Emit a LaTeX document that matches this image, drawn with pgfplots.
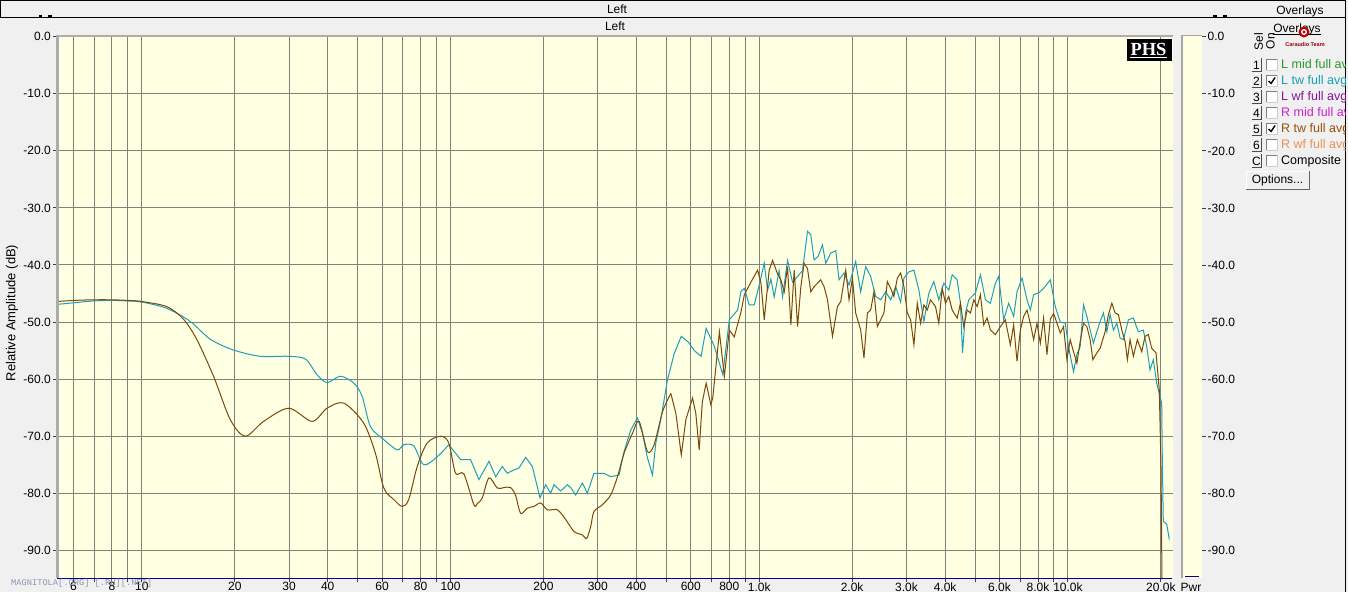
\documentclass[border=0pt]{standalone}
\usepackage{pgfplots}
\pgfplotsset{compat=1.18}
\usepackage{fontspec}
\setmainfont{Liberation Sans}
\newfontfamily\monofont{Liberation Mono}
\newfontfamily\seriffont{Liberation Serif}

\definecolor{winbg}{RGB}{240,240,240}
\definecolor{plotbg}{RGB}{255,255,225}
\definecolor{gridc}{RGB}{130,130,122}
\definecolor{teal1}{RGB}{30,158,186}
\definecolor{brown1}{RGB}{122,72,12}
\definecolor{axblue}{RGB}{0,0,140}
\definecolor{wm}{RGB}{140,150,178}
\definecolor{lg1}{RGB}{40,150,40}
\definecolor{lg2}{RGB}{20,160,180}
\definecolor{lg3}{RGB}{130,20,160}
\definecolor{lg4}{RGB}{210,30,210}
\definecolor{lg5}{RGB}{150,80,10}
\definecolor{lg6}{RGB}{235,145,90}

\begin{document}
\begin{tikzpicture}[font=\fontsize{12}{14}\selectfont]
\useasboundingbox (0,0) rectangle (1348pt,-592pt);
\fill[winbg] (0,0) rectangle (1348pt,-592pt);
\begin{scope}[x=1pt,y=-1pt]
 \draw[black,line width=1pt] (0.5,0.5) rectangle (1345.5,17.5);
 \draw[black,line width=1pt] (1345.5,17.5)--(1345.5,592);
 \node at (617,9) {Left};
 \node at (615,26) {Left};
 \draw[black,line width=1.2pt] (39,16)--(42,16) (48,16)--(52,16) (1213,16)--(1217,16) (1223,16)--(1227,16);
 % Pwr panel
 \fill[plotbg] (1183,35) rectangle (1202,578);
 \draw[gray!70,line width=2.5pt] (1182,35)--(1182,578);
 \draw[gray!70,line width=1.5pt] (1181,35.5)--(1202,35.5);
 \draw[axblue,line width=1pt] (1185,576)--(1199,576);
 \foreach \k/\t in {0/0.0,1/-10.0,2/-20.0,3/-30.0,4/-40.0,5/-50.0,6/-60.0,7/-70.0,8/-80.0,9/-90.0}{
   \draw[black!75,line width=1pt] (1202,36.7+57.1*\k)--(1206,36.7+57.1*\k);
   \node[anchor=west,inner sep=0pt] at (1207.5,36.7+57.1*\k) {\t};
 }
 \node[anchor=north,inner sep=0pt] at (1191,583.5) {Pwr};
 \node[rotate=90,font=\fontsize{13}{15}\selectfont] at (12,313) {Relative Amplitude (dB)};
 \node[inner sep=0pt] at (1300,11.5) {Overlays};
\end{scope}

\begin{axis}[
 at={(57pt,-578.3pt)}, anchor=south west,
 width=1116pt, height=541.6pt, scale only axis,
 xmode=log, xmin=5.31, xmax=21900, ymin=-94.9, ymax=0,
 axis background/.style={fill=plotbg},
 axis line style={draw=none},
 xtick={6,7,8,9,10,20,30,40,50,60,70,80,90,100,200,300,400,500,600,700,800,900,1000,2000,3000,4000,5000,6000,7000,8000,9000,10000,20000},
 xticklabels={6,,8,,10,20,30,40,,60,,80,,100,200,300,400,,600,,800,,1.0k,2.0k,3.0k,4.0k,,6.0k,,8.0k,,10.0k,20.0k},
 ytick={-90,-80,-70,-60,-50,-40,-30,-20,-10,0},
 yticklabels={-90.0,-80.0,-70.0,-60.0,-50.0,-40.0,-30.0,-20.0,-10.0,0.0},
 xtick pos=left, ytick pos=left,
 tick align=outside, major tick length=4pt, minor tick length=0pt,
 tick style={color=black!75, line width=1pt},
 grid=major, major grid style={draw=gridc, line width=1pt},
 tick label style={font=\fontsize{12}{14}\selectfont},
 xticklabel style={inner sep=0pt, anchor=north},
 yticklabel style={inner sep=0pt, anchor=east, xshift=-2pt},
 clip=true,
]
% L tw (teal), low part
\addplot[teal1, line width=1pt, smooth, tension=0.5] coordinates {
(5.31,-46.9)(6.08,-46.6)(6.97,-46.3)(7.99,-46.2)(8.94,-46.3)(10,-46.5)(12.05,-47.6)(14.35,-49.9)(16.65,-53.0)(19.82,-54.9)(24.2,-56.0)(29.9,-56.0)(33.9,-56.5)(36.9,-59.2)(39.8,-60.6)(44.0,-59.5)(48.6,-60.7)(51.7,-63.0)(55.0,-68.3)(60.8,-70.6)(67.2,-72.4)(70.5,-71.5)(76.0,-71.7)(81.9,-75.0)(90.5,-73.6)(98.7,-71.5)
};
\addplot[teal1, line width=1pt] coordinates {
(98.7,-71.5)(107.8,-74.1)(116.1,-74.1)(123.6,-77.6)(133.2,-74.4)(140.0,-77.1)(147.1,-75.3)(152.7,-76.5)(160.4,-75.9)(166.5,-75.6)(175.1,-73.7)(184.1,-75.3)(194.9,-80.8)(203.3,-78.5)(211.0,-80.0)(216.3,-78.5)(227.4,-79.6)(239.0,-78.5)(245.0,-79.0)(254.3,-80.3)(267.4,-78.2)(277.5,-80.0)(291.5,-76.5)(314.1,-76.5)(330.3,-77.1)(351.5,-76.8)(364.8,-72.7)(383.5,-68.9)(403.2,-66.8)(418.5,-69.5)(434.4,-73.8)(451.0,-76.8)(462.2,-71.2)(479.8,-67.1)(504.4,-60.1)(530.5,-55.5)(559.1,-52.5)(589.1,-53.5)(616.1,-55.0)(648,-56.0)(673,-51.1)(716,-54.3)(762,-59.2)(800,-49.6)(851,-47.9)(873,-44.6)(895,-44.1)(928,-47.0)(963,-47.0)(1000,-43.5)(1038,-39.7)(1064,-44.4)(1091,-42.5)(1118,-45.6)(1160,-41.0)(1190,-45.6)(1235,-39.2)(1282,-43.0)(1331,-42.0)(1381,-41.0)(1433,-34.1)(1469,-34.7)(1506,-39.1)(1551,-38.5)(1602,-36.5)(1643,-39.7)(1705,-37.9)(1770,-37.5)(1814,-42.6)(1883,-41.4)(1954,-43.5)(2053,-39.4)(2131,-44.7)(2212,-40.3)(2296,-42.0)(2383,-45.5)(2474,-46.1)(2567,-44.7)(2665,-46.1)(2766,-43.8)(2871,-46.5)(2943,-42.3)(3054,-41.2)(3170,-40.9)(3290,-44.4)(3415,-49.9)(3544,-44.9)(3678,-42.9)(3817,-46.1)(3962,-43.2)(4112,-44.4)(4218,-41.7)(4377,-42.6)(4486,-46.7)(4554,-55.4)(4657,-48.4)(4772,-46.1)(5017,-44.9)(5206,-41.7)(5404,-46.1)(5609,-46.7)(5821,-43.2)(5966,-42.0)(6193,-49.6)(6427,-46.7)(6671,-49.0)(6842,-44.7)(7102,-42.3)(7372,-46.1)(7554,-47.9)(7743,-45.2)(8035,-44.9)(8339,-44.1)(8768,-42.6)(9100,-47.3)(9444,-50.0)(9802,-50.2)(10044,-54.3)(10425,-58.7)(10692,-55.7)(10957,-54.3)(11230,-47.0)(11517,-49.0)(11803,-51.4)(12097,-53.7)(12407,-51.7)(12715,-49.9)(13032,-48.4)(13366,-51.7)(13700,-48.7)(14041,-51.4)(14401,-50.2)(14758,-52.8)(15126,-53.1)(15700,-49.6)(16293,-49.3)(16913,-51.7)(17552,-51.4)(18002,-54.3)(18450,-58.4)(18907,-56.6)(19393,-60.7)(19875,-63.0)(20128,-64.2)(20217,-74.1)(20370,-84.9)(20893,-85.4)(21302,-88.1)
};
% R tw (brown), low part
\addplot[brown1, line width=1pt, smooth, tension=0.5] coordinates {
(5.31,-46.4)(6.08,-46.2)(6.97,-46.1)(7.99,-46.1)(8.94,-46.2)(10,-46.4)(12.05,-47.3)(13.64,-49.5)(15.08,-53.1)(17.07,-59.5)(19.34,-67.1)(21.63,-70.0)(24.80,-67.4)(29.9,-65.1)(35.6,-67.4)(39.8,-65.1)(45.1,-64.2)(52.3,-67.7)(57.1,-73.0)(60.8,-79.1)(65.5,-81.1)(69.7,-82.3)(73.2,-81.1)(78.0,-75.3)(84.0,-71.2)(92.8,-70.0)(98.7,-71.2)(103.8,-76.5)(110.4,-76.6)(119.0,-82.0)(122.1,-81.8)(126.7,-80.8)(133.2,-77.3)(141.8,-79.1)(148.9,-79.0)(156.5,-79.0)(162.5,-80.4)(168.7,-83.5)(177.4,-82.6)(186.3,-82.3)(195.9,-81.7)(205.9,-82.9)(221.9,-82.9)(236.1,-84.6)(251.1,-86.7)(267.4,-87.3)(276.1,-87.9)(284.5,-85.8)(291.5,-83.2)(310.5,-82.0)(330.3,-80.3)(347.3,-77.1)(364.8,-73.0)(388.5,-69.5)(408.1,-67.4)(434.4,-72.7)(456.4,-71.5)(486.2,-65.7)(517.1,-62.5)
};
\addplot[brown1, line width=1pt] coordinates {
(517.1,-62.5)(537,-66.0)(559.1,-73.3)(578.4,-67.1)(608.1,-63.3)(623,-66.0)(639,-72.4)(654,-64.0)(673,-60.7)(697,-64.5)(707,-63.3)(743,-51.7)(771,-59.5)(800,-51.4)(830,-52.6)(873,-48.2)(895,-45.2)(940,-43.0)(988,-40.9)(1013,-43.2)(1038,-49.6)(1077,-40.9)(1105,-39.2)(1147,-41.6)(1175,-42.6)(1205,-44.7)(1235,-40.3)(1266,-50.5)(1298,-40.9)(1331,-50.8)(1364,-43.8)(1397,-39.7)(1433,-40.6)(1469,-44.7)(1506,-43.8)(1544,-43.2)(1582,-42.6)(1622,-43.8)(1664,-46.1)(1727,-52.5)(1792,-47.3)(1837,-46.4)(1907,-40.9)(1954,-46.1)(2004,-42.3)(2053,-48.4)(2131,-51.4)(2184,-56.3)(2241,-48.4)(2296,-47.9)(2353,-44.7)(2413,-50.8)(2474,-49.6)(2535,-48.4)(2600,-42.9)(2665,-44.1)(2731,-45.5)(2801,-42.3)(2871,-41.4)(2943,-43.8)(3018,-48.4)(3093,-49.6)(3170,-54.0)(3251,-46.7)(3332,-50.2)(3415,-47.0)(3502,-47.9)(3589,-46.1)(3725,-47.3)(3817,-50.2)(3915,-44.1)(4012,-46.7)(4112,-45.5)(4218,-47.9)(4377,-49.3)(4486,-46.7)(4598,-50.8)(4716,-47.9)(4833,-48.4)(4954,-46.1)(5081,-47.3)(5206,-45.2)(5337,-50.5)(5473,-49.3)(5609,-51.4)(5821,-52.2)(6042,-50.8)(6270,-49.6)(6508,-54.0)(6671,-50.5)(6842,-56.9)(7013,-51.4)(7188,-49.0)(7372,-47.9)(7554,-50.2)(7743,-53.1)(7940,-50.2)(8138,-53.7)(8339,-49.3)(8553,-55.7)(8768,-49.5)(8985,-48.5)(9215,-50.2)(9444,-51.9)(9678,-50.8)(9926,-56.6)(10171,-53.1)(10425,-55.2)(10692,-57.2)(10957,-53.4)(11230,-50.2)(11517,-50.8)(11803,-53.1)(12044,-56.6)(12407,-55.4)(12715,-54.6)(13196,-51.7)(13527,-48.7)(13874,-46.7)(14220,-48.4)(14572,-48.7)(14946,-51.4)(15318,-53.4)(15582,-56.6)(15897,-53.1)(16293,-56.0)(16785,-53.1)(17346,-55.2)(17775,-52.5)(18219,-52.2)(18686,-54.6)(19294,-55.4)(19770,-61.9)(20022,-75.3)(20174,-96)
};
\end{axis}

\begin{scope}[x=1pt,y=-1pt]
 % plot borders
 \draw[gray!65,line width=2.6pt] (57.3,35.4)--(57.3,578.3);
 \draw[gray!65,line width=2pt] (56,36.2)--(1173,36.2);
 \draw[axblue,line width=1.2pt] (57,578.6)--(1172,578.6);
 % PHS logo
 \fill[black] (1126.5,39) rectangle (1171.5,60.5);
 \node[text=white,inner sep=0pt,font=\seriffont\bfseries\fontsize{18.5}{18.5}\selectfont] at (1148.5,49) {PHS};
 \draw[white,line width=1pt] (1130,57.2)--(1167,57.2);
 % watermark bottom
 \node[anchor=west,inner sep=0pt,text=wm,font=\monofont\fontsize{8.7}{9}\selectfont] at (11,583.5) {MAGNITOLA[.ORG] [.RU][.NET]};
 % legend panel
 \begin{scope}
  \clip (1238,17.5) rectangle (1345,592);
  \node[inner sep=0pt] at (1297,29) {Overlays};
  \draw[black,line width=0.8pt] (1273,34.3)--(1321,34.3);
  \fill[red!75!black] (1304,32) circle (5.5);
  \fill[white] (1304,32) circle (3);
  \fill[red!75!black] (1304,32) circle (1.6);
  \node[inner sep=0pt,text=red!60!black,font=\bfseries\fontsize{5.5}{6}\selectfont] at (1305,45) {Caraudio Team};
  \node[rotate=90,inner sep=0pt] at (1258.5,42) {Sel};
  \node[rotate=90,inner sep=0pt] at (1270.5,41) {On};
  \foreach \i/\n/\c/\t in {0/1/lg1/L mid full avg,1/2/lg2/L tw full avg,2/3/lg3/L wf full avg,3/4/lg4/R mid full avg,4/5/lg5/R tw full avg,5/6/lg6/R wf full avg,6/C/black/Composite}{
    \pgfmathsetmacro\yc{65+16*\i}
    \fill[gray!12] (1251.5,\yc-7) rectangle (1261.5,\yc+6);
    \draw[white,line width=1pt] (1251.5,\yc+6)--(1251.5,\yc-7)--(1261.5,\yc-7);
    \draw[black!70,line width=1pt] (1251.5,\yc+6)--(1261.5,\yc+6)--(1261.5,\yc-7);
    \node[inner sep=0pt] at (1256.5,\yc) {\n};
    \fill[white] (1266.5,\yc-6) rectangle (1277,\yc+5);
    \draw[gray,line width=1pt] (1266.5,\yc+5)--(1266.5,\yc-6)--(1277,\yc-6);
    \draw[gray!40,line width=1pt] (1266.5,\yc+5)--(1277,\yc+5)--(1277,\yc-6);
    \node[anchor=west,inner sep=0pt,text=\c,font=\fontsize{12.5}{14}\selectfont] at (1281,\yc) {\t};
  }
  \draw[black,line width=1.4pt] (1268.5,81)--(1271,83.5)--(1275,77.5);
  \draw[black,line width=1.4pt] (1268.5,129)--(1271,131.5)--(1275,125.5);
  % options button
  \fill[winbg] (1246,171) rectangle (1309,189);
  \draw[white,line width=1pt] (1246,189)--(1246,171)--(1309,171);
  \draw[black!60,line width=1pt] (1246,189)--(1309,189)--(1309,171);
  \node[inner sep=0pt] at (1277.5,180) {Options...};
 \end{scope}
\end{scope}
\end{tikzpicture}
\end{document}
